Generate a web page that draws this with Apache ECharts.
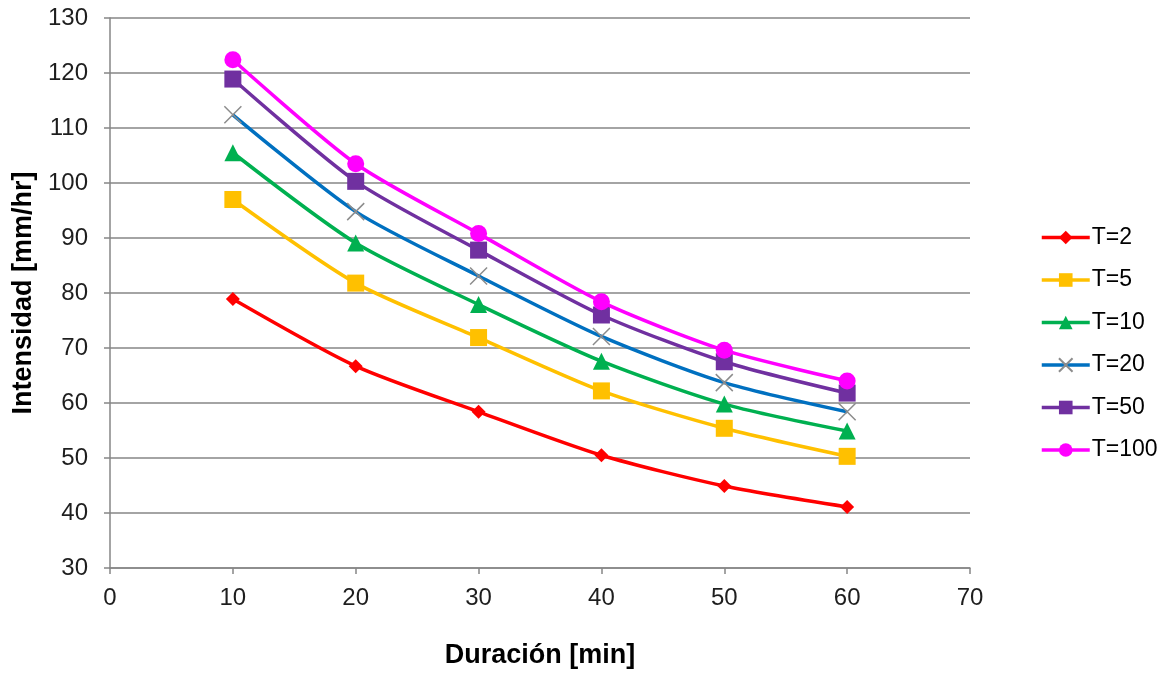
<!DOCTYPE html>
<html><head><meta charset="utf-8">
<script src="https://cdn.jsdelivr.net/npm/echarts@6/dist/echarts.min.js"></script>
<style>html,body{margin:0;padding:0;background:#fff}#c{width:1170px;height:676px}</style>
</head><body><div id="c"></div>
<script>
const durations = [10, 20, 30, 40, 50, 60];
const seriesNames = ['T=2', 'T=5', 'T=10', 'T=20', 'T=50', 'T=100'];
const t2 = [78.9, 66.7, 58.4, 50.5, 44.9, 41.1];
const t5 = [97.0, 81.8, 71.9, 62.2, 55.4, 50.3];
const t10 = [105.5, 89.1, 77.9, 67.6, 59.8, 54.9];
const t20 = [112.4, 94.8, 83.1, 72.1, 63.7, 58.4];
const t50 = [118.9, 100.3, 87.8, 76.0, 67.5, 61.8];
const t100 = [122.4, 103.5, 90.8, 78.4, 69.6, 64.0];
const yTicks = [30, 40, 50, 60, 70, 80, 90, 100, 110, 120, 130];
const xTicks = [0, 10, 20, 30, 40, 50, 60, 70];

const colors = ['#FF0000', '#FFC000', '#00B050', '#0070C0', '#7030A0', '#FF00FF'];
const symbols = ['diamond', 'rect', 'triangle', 'path://M0,0L10,10M10,0L0,10', 'rect', 'circle'];
const sizes = [14, 17, 17, 17, 17, 17];
const allData = [t2, t5, t10, t20, t50, t100];
const font = 'Liberation Sans, Arial, sans-serif';

const series = seriesNames.map((name, i) => {
  const isCross = i === 3;
  return {
    name, type: 'line', smooth: 0.25,
    data: durations.map((d, j) => [d, allData[i][j]]),
    symbol: symbols[i], symbolSize: sizes[i],
    lineStyle: { color: colors[i], width: 3.5 },
    itemStyle: isCross
      ? { color: 'rgba(0,0,0,0)', borderColor: '#8c8c8c', borderWidth: 1.5 }
      : { color: colors[i] },
    z: 2 + i
  };
});

const chart = echarts.init(document.getElementById('c'), null, { renderer: 'canvas' });
chart.setOption({
  animation: false,
  backgroundColor: '#fff',
  grid: { left: 110, right: 200, top: 18, bottom: 108, containLabel: false },
  xAxis: {
    type: 'value', min: xTicks[0], max: xTicks[xTicks.length - 1], interval: 10,
    name: 'Duración [min]', nameLocation: 'middle', nameGap: 74,
    nameTextStyle: { fontFamily: font, fontSize: 27, fontWeight: 'bold', color: '#000' },
    axisLine: { lineStyle: { color: '#868686', width: 1.5 } },
    axisTick: { show: true, length: 6, lineStyle: { color: '#868686', width: 1.5 } },
    axisLabel: { fontFamily: font, fontSize: 24, color: '#1e1e1e', margin: 18 },
    splitLine: { show: false }
  },
  yAxis: {
    type: 'value', min: yTicks[0], max: yTicks[yTicks.length - 1], interval: 10,
    name: 'Intensidad [mm/hr]', nameLocation: 'middle', nameGap: 72, nameRotate: 90,
    nameTextStyle: { fontFamily: font, fontSize: 27, fontWeight: 'bold', color: '#000' },
    axisLine: { show: true, lineStyle: { color: '#868686', width: 1.5 } },
    axisTick: { show: true, length: 6, lineStyle: { color: '#868686', width: 1.5 } },
    axisLabel: { fontFamily: font, fontSize: 24, color: '#1e1e1e', margin: 22 },
    splitLine: { show: true, lineStyle: { color: '#868686', width: 1.5 } }
  },
  legend: {
    orient: 'vertical', left: 1040, top: 226, itemGap: 19.5, padding: 0,
    itemWidth: 48, itemHeight: 17,
    lineStyle: { width: 3.5 },
    textStyle: { fontFamily: font, fontSize: 23, color: '#000', padding: [0, 0, 0, -3] },
    data: seriesNames
  },
  series
});
</script></body></html>
